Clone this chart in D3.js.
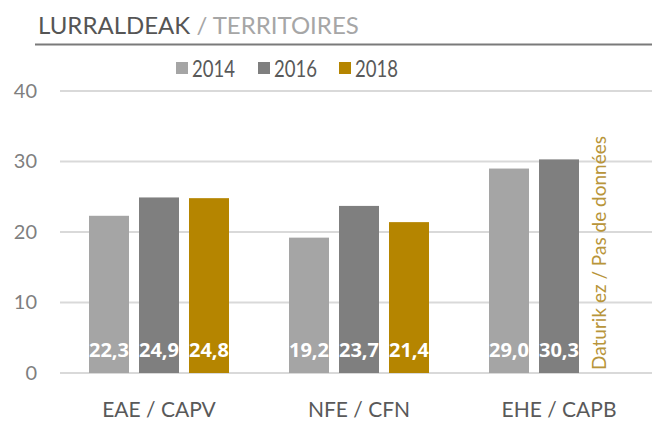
<!DOCTYPE html>
<html>
<head>
<meta charset="utf-8">
<script src="https://cdn.jsdelivr.net/npm/d3@7"></script>
<style>
  html, body { margin: 0; padding: 0; background: #fff; }
  svg { display: block; }
</style>
</head>
<body>
<svg id="chart" width="652" height="421"></svg>
<script>
// Territories and survey years
const categories = ["EAE / CAPV", "NFE / CFN", "EHE / CAPB"];
const years = ["2014", "2016", "2018"];
const values2014 = [22.3, 19.2, 29.0];
const values2016 = [24.9, 23.7, 30.3];
const values2018 = [24.8, 21.4, null];
const yTicks = [0, 10, 20, 30, 40];
const colors = ["#a5a5a5", "#7f7f7f", "#b58500"];
const noDataLabel = "Daturik ez / Pas de données";

const series = [values2014, values2016, values2018];

const svg = d3.select("#chart");
const W = 652, H = 421;
const margin = { left: 59, right: -7, top: 91, bottom: 48 };
const plotRight = W - margin.right;
const plotBottom = H - margin.bottom;

// Title with underline
const title = svg.append("text")
  .attr("x", 38).attr("y", 34)
  .style("font-family", "Lato, 'Open Sans', sans-serif")
  .style("font-size", "24px");
title.append("tspan").text("LURRALDEAK").attr("fill", "#555555");
title.append("tspan").text(" / TERRITOIRES").attr("fill", "#a6a6a6");
svg.append("line")
  .attr("x1", 35).attr("x2", W).attr("y1", 44.5).attr("y2", 44.5)
  .attr("stroke", "#7a7a7a").attr("stroke-width", 2);

// Scales
const x0 = d3.scaleBand().domain(categories).range([margin.left, plotRight]).paddingInner(0).paddingOuter(0);
const x1 = d3.scaleBand().domain(years).range([30, 170]).paddingInner(0.2).paddingOuter(0);
const y = d3.scaleLinear().domain([0, 40]).range([plotBottom, margin.top]);

// Gridlines
svg.append("g").selectAll("line").data(yTicks).join("line")
  .attr("x1", 60).attr("x2", W)
  .attr("y1", d => y(d)).attr("y2", d => y(d))
  .attr("stroke", "#d9d9d9").attr("stroke-width", 2);

// Y axis labels
const yAxis = d3.axisLeft(y).tickValues(yTicks).tickSize(0).tickPadding(0);
const yg = svg.append("g").attr("transform", "translate(37,0)").call(yAxis);
yg.select(".domain").remove();
yg.selectAll("text")
  .style("font-family", "Lato, 'Open Sans', sans-serif")
  .style("font-size", "20px")
  .attr("fill", "#7f7f7f");

// X axis labels
const xAxis = d3.axisBottom(x0).tickSize(0).tickPadding(0);
const xg = svg.append("g").attr("transform", `translate(0,${plotBottom + 29})`).call(xAxis);
xg.select(".domain").remove();
xg.selectAll("text")
  .style("font-family", "Lato, 'Open Sans', sans-serif")
  .style("font-size", "21px")
  .attr("fill", "#595959");

// Bars
const rows = [];
categories.forEach((c, i) => {
  years.forEach((yr, j) => {
    rows.push({ cat: c, year: yr, idx: j, value: series[j][i] });
  });
});

const groups = svg.append("g");
const present = rows.filter(d => d.value !== null);

groups.selectAll("rect").data(present).join("rect")
  .attr("x", d => x0(d.cat) + x1(d.year))
  .attr("width", x1.bandwidth())
  .attr("y", d => y(d.value))
  .attr("height", d => y(0) - y(d.value))
  .attr("fill", d => colors[d.idx]);

groups.selectAll("text.val").data(present).join("text")
  .attr("class", "val")
  .attr("x", d => x0(d.cat) + x1(d.year) + x1.bandwidth() / 2)
  .attr("y", plotBottom - 16)
  .attr("text-anchor", "middle")
  .style("font-family", "'Open Sans', Lato, sans-serif")
  .style("font-weight", "bold")
  .style("font-size", "20px")
  .attr("fill", "#ffffff")
  .text(d => d3.format(".1f")(d.value).replace(".", ","));

// Missing-value note
rows.filter(d => d.value === null).forEach(d => {
  const cx = x0(d.cat) + x1(d.year) + x1.bandwidth() / 2;
  svg.append("text")
    .attr("transform", `translate(${cx - 3},${plotBottom - 3}) rotate(-90)`)
    .attr("text-anchor", "start")
    .style("font-family", "Lato, 'Open Sans', sans-serif")
    .style("font-size", "19px")
    .attr("fill", "#b8953a")
    .text(noDataLabel);
});

// Legend
const legendX = [176, 258, 339];
const legend = svg.append("g");
years.forEach((yr, j) => {
  legend.append("rect")
    .attr("x", legendX[j]).attr("y", 62)
    .attr("width", 12).attr("height", 12)
    .attr("fill", colors[j]);
  legend.append("text")
    .attr("x", legendX[j] + 16).attr("y", 77)
    .attr("textLength", 43)
    .attr("lengthAdjust", "spacingAndGlyphs")
    .style("font-family", "Lato, 'Open Sans', sans-serif")
    .style("font-size", "23px")
    .attr("fill", "#595959")
    .text(yr);
});
</script>
</body>
</html>
